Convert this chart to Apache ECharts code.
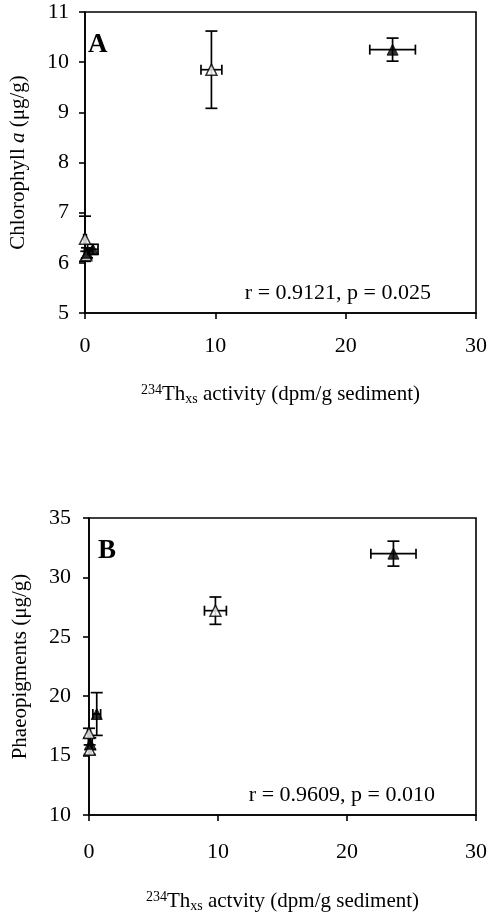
<!DOCTYPE html>
<html><head><meta charset="utf-8">
<script src="https://cdn.jsdelivr.net/npm/echarts@6/dist/echarts.min.js"></script>
<style>html,body{margin:0;padding:0;background:#fff}#c{width:490px;height:920px}</style>
</head><body><div id="c"></div>
<script>
// Panel A: Chlorophyll a vs 234Th_xs activity
const aOpenX = [0.0, 0.1, 9.7];
const aOpenY = [6.48, 6.15, 9.85];
const aOpenXErr = [0.1, 0.1, 0.8];
const aOpenYErr = [0.45, 0.08, 0.77];
const aFilledX = [0.15, 0.6, 23.6];
const aFilledY = [6.2, 6.27, 10.25];
const aFilledXErr = [0.2, 0.4, 1.75];
const aFilledYErr = [0.1, 0.1, 0.23];
// Panel B: Phaeopigments vs 234Th_xs activity
const bOpenX = [0.0, 0.05, 9.8];
const bOpenY = [16.9, 15.5, 27.2];
const bOpenXErr = [0.1, 0.1, 0.85];
const bOpenYErr = [0.4, 0.4, 1.15];
const bFilledX = [0.1, 0.6, 23.6];
const bFilledY = [16.0, 18.5, 32.0];
const bFilledXErr = [0.15, 0.3, 1.75];
const bFilledYErr = [0.5, 1.8, 1.05];
// Axis ticks
const xTicks = [0, 10, 20, 30];
const aYTicks = [5, 6, 7, 8, 9, 10, 11];
const bYTicks = [10, 15, 20, 25, 30, 35];
const aStats = 'r = 0.9121, p = 0.025';
const bStats = 'r = 0.9609, p = 0.010';

const FONT = '"Liberation Serif", "DejaVu Serif", serif';
const pts = (xs, ys) => xs.map((x, i) => [x, ys[i]]);
const errs = (xs, ys, ex, ey) => xs.map((x, i) => [x, ys[i], ex[i], ey[i]]);

function errRender(params, api) {
  const x = api.value(0), y = api.value(1), ex = api.value(2), ey = api.value(3);
  const c = api.coord([x, y]);
  const top = api.coord([x, y + ey]), bot = api.coord([x, y - ey]);
  const lft = api.coord([x - ex, y]), rgt = api.coord([x + ex, y]);
  const cap = 6, hcap = 5;
  const st = { stroke: '#000', lineWidth: 1.7 };
  const L = (x1, y1, x2, y2) => ({ type: 'line', shape: { x1, y1, x2, y2 }, style: st });
  return { type: 'group', children: [
    L(c[0], top[1], c[0], bot[1]),
    L(c[0] - cap, top[1], c[0] + cap, top[1]),
    L(c[0] - cap, bot[1], c[0] + cap, bot[1]),
    L(lft[0], c[1], rgt[0], c[1]),
    L(lft[0], c[1] - hcap, lft[0], c[1] + hcap),
    L(rgt[0], c[1] - hcap, rgt[0], c[1] + hcap)
  ]};
}

const axisCommon = {
  axisLine: { show: true, onZero: false, lineStyle: { color: '#000', width: 1.6 } },
  axisTick: { show: true, inside: false, length: 6, lineStyle: { color: '#000', width: 1.6 } },
  splitLine: { show: false },
  axisLabel: { color: '#000', fontFamily: FONT, fontSize: 22 }
};
const nameRich = {
  n: { fontFamily: FONT, fontSize: 21, color: '#000' },
  i: { fontFamily: FONT, fontSize: 21, color: '#000', fontStyle: 'italic' },
  sup: { fontFamily: FONT, fontSize: 14, color: '#000', verticalAlign: 'top', padding: [0, 0, 9, 0] },
  sub: { fontFamily: FONT, fontSize: 14, color: '#000', verticalAlign: 'bottom', padding: [7, 0, 0, 0] }
};

const chart = echarts.init(document.getElementById('c'), null, { renderer: 'canvas' });
chart.setOption({
  backgroundColor: '#fff',
  animation: false,
  grid: [
    { left: 81, top: 12, width: 398, height: 301, show: true, borderColor: '#000', borderWidth: 1.6, backgroundColor: 'transparent' },
    { left: 89, top: 518, width: 388, height: 297, show: true, borderColor: '#000', borderWidth: 1.6, backgroundColor: 'transparent' }
  ],
  xAxis: [
    Object.assign({}, axisCommon, { gridIndex: 0, type: 'value', min: xTicks[0], max: xTicks[xTicks.length - 1], interval: 10,
      axisLabel: Object.assign({}, axisCommon.axisLabel, { margin: 22 }),
      name: '{sup|234}{n|Th}{sub|xs}{n| activity (dpm/g sediment)}', nameLocation: 'middle', nameGap: 70,
      nameTextStyle: { rich: nameRich } }),
    Object.assign({}, axisCommon, { gridIndex: 1, type: 'value', min: xTicks[0], max: xTicks[xTicks.length - 1], interval: 10,
      axisLabel: Object.assign({}, axisCommon.axisLabel, { margin: 26 }),
      name: '{sup|234}{n|Th}{sub|xs}{n| actvity (dpm/g sediment)}', nameLocation: 'middle', nameGap: 75,
      nameTextStyle: { rich: nameRich } })
  ],
  yAxis: [
    Object.assign({}, axisCommon, { gridIndex: 0, type: 'value', min: aYTicks[0], max: aYTicks[aYTicks.length - 1], interval: 1,
      axisLabel: Object.assign({}, axisCommon.axisLabel, { margin: 16 }),
      name: '{n|Chlorophyll }{i|a}{n| (μg/g)}', nameLocation: 'middle', nameGap: 56, nameRotate: 90,
      nameTextStyle: { rich: nameRich } }),
    Object.assign({}, axisCommon, { gridIndex: 1, type: 'value', min: bYTicks[0], max: bYTicks[bYTicks.length - 1], interval: 5,
      axisLabel: Object.assign({}, axisCommon.axisLabel, { margin: 18 }),
      name: '{n|Phaeopigments (μg/g)}', nameLocation: 'middle', nameGap: 58, nameRotate: 90,
      nameTextStyle: { rich: nameRich } })
  ],
  graphic: [
    { type: 'text', left: 88, top: 32, style: { text: 'A', font: 'bold 27px ' + FONT, fill: '#000' } },
    { type: 'text', left: 98, top: 538, style: { text: 'B', font: 'bold 27px ' + FONT, fill: '#000' } },
    { type: 'text', right: 59, top: 282, style: { text: aStats, font: '22px ' + FONT, fill: '#000' } },
    { type: 'text', right: 55, top: 784, style: { text: bStats, font: '22px ' + FONT, fill: '#000' } }
  ],
  series: [
    { type: 'custom', xAxisIndex: 0, yAxisIndex: 0, renderItem: errRender, data: errs(aOpenX, aOpenY, aOpenXErr, aOpenYErr), z: 1, clip: false },
    { type: 'custom', xAxisIndex: 0, yAxisIndex: 0, renderItem: errRender, data: errs(aFilledX, aFilledY, aFilledXErr, aFilledYErr), z: 1, clip: false },
    { type: 'scatter', xAxisIndex: 0, yAxisIndex: 0, data: pts(aOpenX, aOpenY), symbol: 'triangle', symbolSize: 11, z: 3,
      itemStyle: { color: '#fff', borderColor: '#000', borderWidth: 1.5 } },
    { type: 'scatter', xAxisIndex: 0, yAxisIndex: 0, data: pts(aFilledX, aFilledY), symbol: 'triangle', symbolSize: 11, z: 3,
      itemStyle: { color: '#000', borderColor: '#000', borderWidth: 1 } },
    { type: 'custom', xAxisIndex: 1, yAxisIndex: 1, renderItem: errRender, data: errs(bOpenX, bOpenY, bOpenXErr, bOpenYErr), z: 1, clip: false },
    { type: 'custom', xAxisIndex: 1, yAxisIndex: 1, renderItem: errRender, data: errs(bFilledX, bFilledY, bFilledXErr, bFilledYErr), z: 1, clip: false },
    { type: 'scatter', xAxisIndex: 1, yAxisIndex: 1, data: pts(bOpenX, bOpenY), symbol: 'triangle', symbolSize: 11, z: 3,
      itemStyle: { color: '#fff', borderColor: '#000', borderWidth: 1.5 } },
    { type: 'scatter', xAxisIndex: 1, yAxisIndex: 1, data: pts(bFilledX, bFilledY), symbol: 'triangle', symbolSize: 11, z: 3,
      itemStyle: { color: '#000', borderColor: '#000', borderWidth: 1 } }
  ]
});
</script></body></html>
